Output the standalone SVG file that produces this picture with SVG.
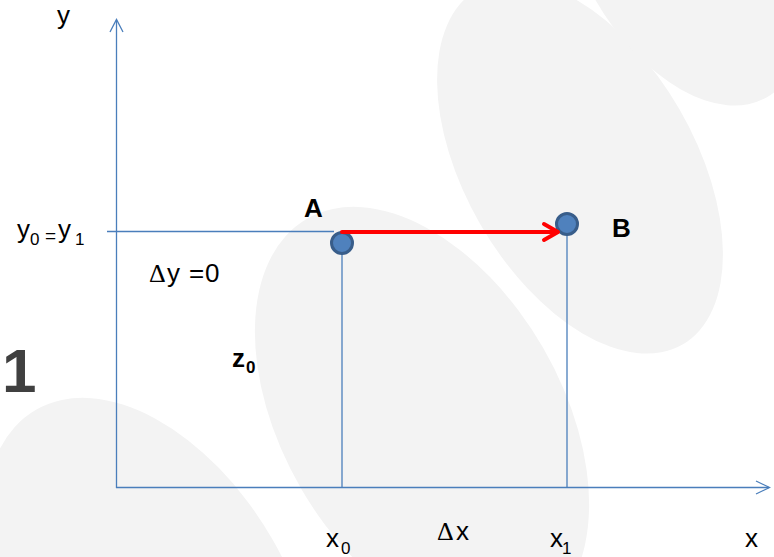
<svg xmlns="http://www.w3.org/2000/svg" width="774" height="557" viewBox="0 0 774 557">
  <style>
    .bg { fill: #f3f3f3; }
    .axis { stroke: #4a7ebb; stroke-width: 1.3; fill: none; }
    .guide { stroke: #4a7ebb; stroke-width: 1.3; fill: none; }
    .pt { fill: #4f81bd; stroke: #385d8a; stroke-width: 3; }
    .move { stroke: #ff0000; stroke-width: 4; fill: none; stroke-linecap: round; stroke-linejoin: round; }
    .lbl { font-family: "Liberation Sans", Arial, sans-serif; font-size: 26px; fill: #000; }
    .sub { font-size: 17px; }
    .bold { font-weight: bold; }
    .delta { font-family: "Liberation Serif", "Times New Roman", serif; }
  </style>
  <rect width="774" height="557" fill="#ffffff"/>
  <g id="background">
    <ellipse class="bg" cx="580" cy="167" rx="205" ry="115" transform="rotate(60 580 167)"/>
    <ellipse class="bg" cx="422" cy="418" rx="230" ry="140" transform="rotate(60 422 418)"/>
    <ellipse class="bg" cx="151" cy="609" rx="230" ry="140" transform="rotate(60 151 609)"/>
    <ellipse class="bg" cx="682" cy="-50" rx="170" ry="100" transform="rotate(60 682 -50)"/>
  </g>
  <g id="axes">
    <line class="axis" x1="116.5" y1="488" x2="116.5" y2="20"/>
    <path class="axis" d="M110,32 L116.5,19.5 L123,32"/>
    <line class="axis" x1="116" y1="487.5" x2="769" y2="487.5"/>
    <path class="axis" d="M756,481 L769.5,487.5 L756,494"/>
  </g>
  <g id="connectors">
    <line class="guide" x1="107" y1="231.5" x2="334" y2="231.5"/>
    <line class="guide" x1="342" y1="252" x2="342" y2="488"/>
    <line class="guide" x1="567" y1="234" x2="567" y2="488"/>
  </g>
  <g id="node-A">
    <circle class="pt" cx="342" cy="243" r="10.5"/>
    <text class="lbl bold" x="304" y="217">A</text>
  </g>
  <g id="node-B">
    <circle class="pt" cx="567" cy="224" r="10.5"/>
    <text class="lbl bold" x="612" y="237">B</text>
  </g>
  <g id="move-arrow">
    <line class="move" x1="342" y1="232" x2="557" y2="232"/>
    <path class="move" d="M544,224 L558,232 L544,240"/>
  </g>
  <g id="labels">
    <text class="lbl" x="57" y="24">y</text>
    <text class="lbl" y="238"><tspan x="17">y</tspan><tspan class="sub" x="30" y="245">0</tspan><tspan x="45" y="242" style="font-size:19px">=</tspan><tspan x="58" y="238">y</tspan><tspan class="sub" x="75" y="245">1</tspan></text>
    <text class="lbl" y="282"><tspan class="delta" x="149">Δ</tspan><tspan x="167">y</tspan><tspan x="189">=</tspan><tspan x="205">0</tspan></text>
    <text class="lbl bold" x="2" y="392" style="font-size:62px;fill:#404040">1</text>
    <text class="lbl bold" y="367"><tspan x="232">z</tspan><tspan class="sub" x="246" y="373">0</tspan></text>
    <text class="lbl" y="547"><tspan x="326">x</tspan><tspan class="sub" x="341" y="554">0</tspan></text>
    <text class="lbl" y="540"><tspan class="delta" x="437">Δ</tspan><tspan x="456">x</tspan></text>
    <text class="lbl" y="547"><tspan x="550">x</tspan><tspan class="sub" x="562" y="554">1</tspan></text>
    <text class="lbl" x="745" y="547">x</text>
  </g>
</svg>
